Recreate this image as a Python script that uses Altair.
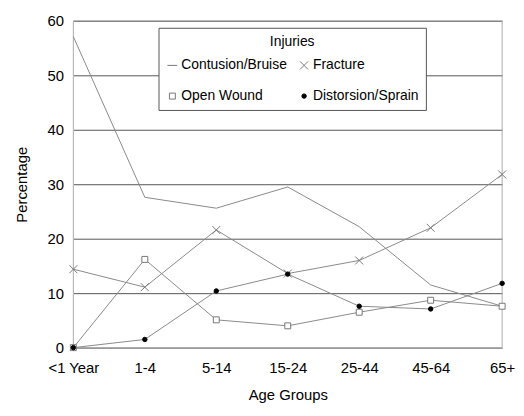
import altair as alt
import pandas as pd

age_groups = ["<1 Year", "1-4", "5-14", "15-24", "25-44", "45-64", "65+"]
series_names = ["Contusion/Bruise", "Fracture", "Open Wound", "Distorsion/Sprain"]
contusion = [57.1, 27.6, 25.6, 29.5, 22.2, 11.5, 7.6]
fracture = [14.4, 11.1, 21.6, 13.6, 16.0, 22.0, 31.8]
open_wound = [0.0, 16.2, 5.1, 4.0, 6.5, 8.7, 7.6]
distorsion = [0.0, 1.5, 10.4, 13.5, 7.6, 7.1, 11.8]
y_ticks = [0, 10, 20, 30, 40, 50, 60]

rows = []
for name, vals in zip(series_names, [contusion, fracture, open_wound, distorsion]):
    for g, v in zip(age_groups, vals):
        rows.append({"Age": g, "Value": v, "Injuries": name})
df = pd.DataFrame(rows)

FONT = "Liberation Sans, Arial"

# legend fills column by column: order so rows read Contusion/Fracture, Open Wound/Distorsion
legend_order = ["Contusion/Bruise", "Open Wound", "Fracture", "Distorsion/Sprain"]
shape_map = {"Contusion/Bruise": "M-1,0H1", "Fracture": "M-1,-1L1,1M-1,1L1,-1",
             "Open Wound": "M-1,-1H1V1H-1Z", "Distorsion/Sprain": "circle"}
fill_map = {"Contusion/Bruise": "transparent", "Fracture": "transparent",
            "Open Wound": "white", "Distorsion/Sprain": "black"}
stroke_map = {"Contusion/Bruise": "#777777", "Fracture": "#777777",
              "Open Wound": "#777777", "Distorsion/Sprain": "black"}
size_map = {"Contusion/Bruise": 100, "Fracture": 64, "Open Wound": 36, "Distorsion/Sprain": 20}

x = alt.X("Age:N", sort=age_groups, scale=alt.Scale(padding=0),
          axis=alt.Axis(title="Age Groups", labelAngle=0, ticks=False, domain=False,
                        labelPadding=13, titlePadding=12, grid=False))
y = alt.Y("Value:Q", scale=alt.Scale(domain=[0, 60], nice=False),
          axis=alt.Axis(title="Percentage", values=y_ticks, ticks=False, domain=False,
                        labelPadding=10, titlePadding=18, grid=True))

lines = alt.Chart(df).mark_line(strokeWidth=1, color="#8a8a8a").encode(
    x=x, y=y, detail="Injuries:N"
)

leg = dict(
    title="Injuries", orient="none", legendX=86, legendY=7, columns=2,
    titleFont=FONT, titleFontSize=14, titleFontWeight="normal", titleColor="black",
    titleAnchor="middle", titlePadding=10,
    labelFont=FONT, labelFontSize=14, labelColor="black", labelOffset=2,
    strokeColor="#555555", fillColor="white", padding=7,
    rowPadding=17, columnPadding=10,
    symbolStrokeWidth=1,
)

points = alt.Chart(df).transform_filter(
    alt.datum.Injuries != "Contusion/Bruise"
).mark_point(filled=True, strokeWidth=1, opacity=1).encode(
    x=x, y=y,
    shape=alt.Shape("Injuries:N", scale=alt.Scale(domain=legend_order,
                    range=[shape_map[s] for s in legend_order]), legend=alt.Legend(**leg)),
    fill=alt.Fill("Injuries:N", scale=alt.Scale(domain=legend_order,
                  range=[fill_map[s] for s in legend_order]), legend=alt.Legend(**leg)),
    stroke=alt.Stroke("Injuries:N", scale=alt.Scale(domain=legend_order,
                      range=[stroke_map[s] for s in legend_order]), legend=alt.Legend(**leg)),
    size=alt.Size("Injuries:N", scale=alt.Scale(type="ordinal", domain=legend_order,
                  range=[size_map[s] for s in legend_order]), legend=alt.Legend(**leg)),
)

frame = alt.Chart(pd.DataFrame({"a": [0]})).mark_rect(
    fill="transparent", stroke="#aaaaaa", strokeWidth=1
).encode(x=alt.value(0), x2=alt.value(433), y=alt.value(0), y2=alt.value(330))

chart = alt.layer(frame, lines, points).properties(
    width=433, height=330,
    autosize=alt.AutoSizeParams(type="none"),
    padding={"left": 66, "top": 11, "right": 14, "bottom": 59},
).configure_view(stroke=None).configure_axis(
    labelFont=FONT, labelFontSize=15, labelColor="black",
    titleFont=FONT, titleFontSize=15, titleFontWeight="normal", titleColor="black",
    gridColor="#555555", gridWidth=1,
)

chart.save("out.html", embed_options={"renderer": "svg", "actions": False})
